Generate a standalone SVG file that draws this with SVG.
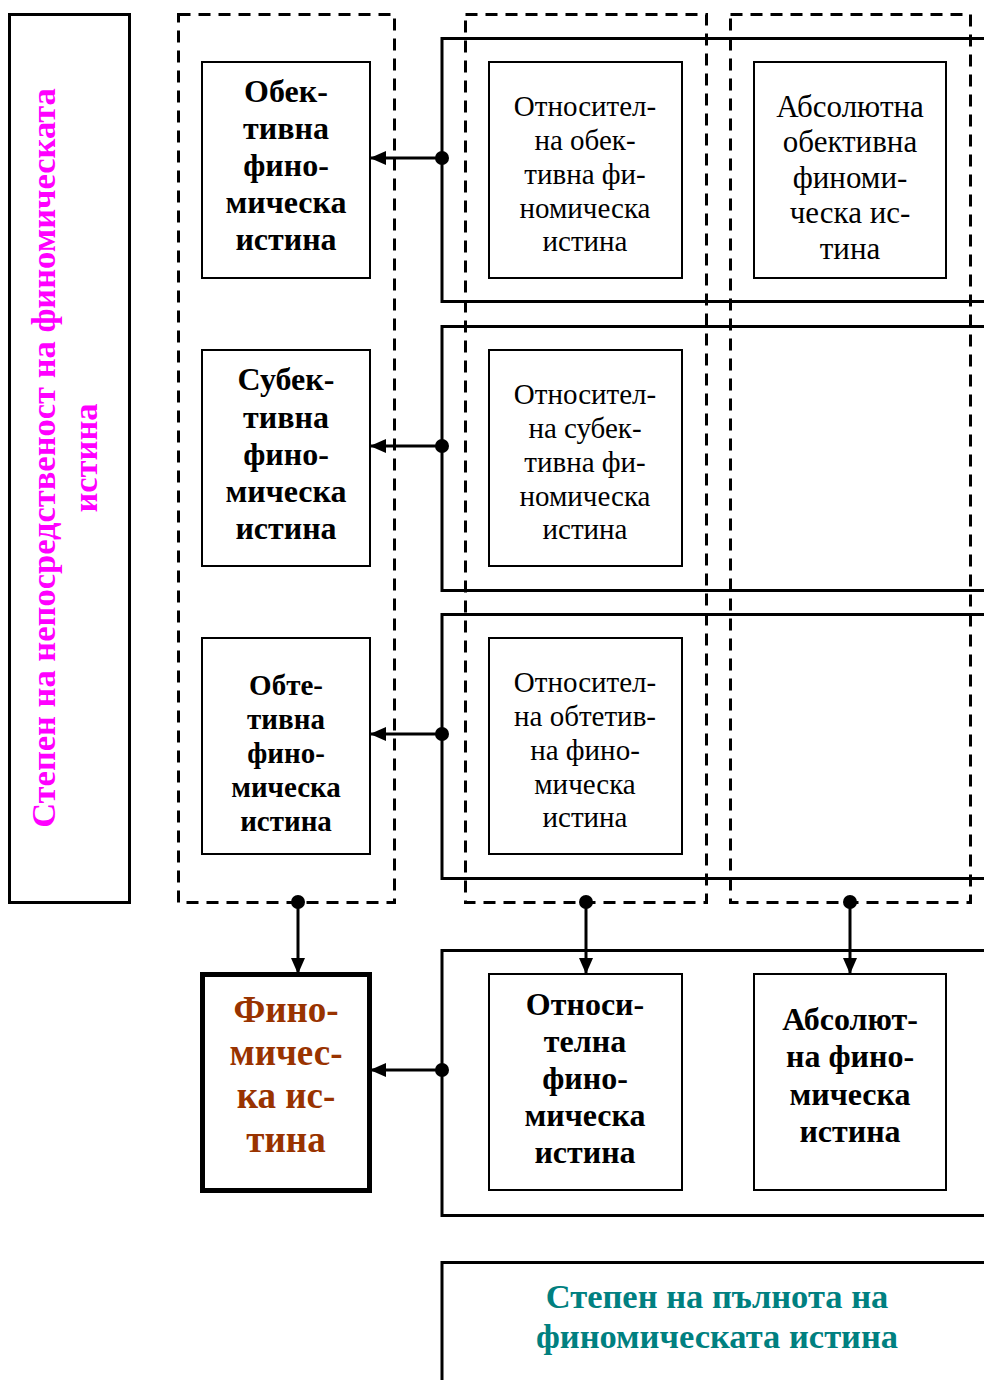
<svg xmlns="http://www.w3.org/2000/svg" width="984" height="1380" viewBox="0 0 984 1380">
<defs>
<marker id="ah" markerWidth="16" markerHeight="14" refX="15" refY="7" orient="auto" markerUnits="userSpaceOnUse">
<path d="M0,0 L16,7 L0,14 Z" fill="#000"/>
</marker>
<style>
.dash{fill:none;stroke:#000;stroke-width:3;stroke-dasharray:12 8}
.row{fill:none;stroke:#000;stroke-width:3}
.box{fill:#fff;stroke:#000;stroke-width:2}
.conn{stroke:#000;stroke-width:3;fill:none}
.dot{fill:#000}
text{font-family:"Liberation Serif","Times New Roman",serif;text-anchor:middle}
.b{font-weight:bold;font-size:32px}
.b3{font-weight:bold;font-size:29px}
.r{font-size:29px}
.r2{font-size:31px}
</style>
</defs>
<rect width="984" height="1380" fill="#fff"/>

<g id="side-label">
<rect x="9.5" y="14.5" width="120" height="888" fill="none" stroke="#000" stroke-width="3"/>
<text transform="translate(55,458) rotate(-90)" font-weight="bold" font-size="34.5" fill="#FF00FF">Степен на непосредственост на финомическата</text>
<text transform="translate(97,458) rotate(-90)" font-weight="bold" font-size="34.5" fill="#FF00FF">истина</text>
</g>

<g id="groups">
<rect class="dash" x="178.5" y="14.5" width="216" height="888"/>
<rect class="dash" x="465.5" y="14.5" width="241" height="888"/>
<rect class="dash" x="730.5" y="14.5" width="240" height="888"/>
<rect class="row" x="442" y="38.5" width="600" height="263"/>
<rect class="row" x="442" y="326.5" width="600" height="264"/>
<rect class="row" x="442" y="614.5" width="600" height="264"/>
<rect class="row" x="442" y="950.5" width="600" height="265"/>
</g>

<g id="obj">
<rect class="box" x="202" y="62" width="168" height="216"/>
<text class="b"><tspan x="286" y="102">Обек-</tspan><tspan x="286" y="139">тивна</tspan><tspan x="286" y="176">фино-</tspan><tspan x="286" y="213">мическа</tspan><tspan x="286" y="250">истина</tspan></text>
</g>
<g id="subj">
<rect class="box" x="202" y="350" width="168" height="216"/>
<text class="b"><tspan x="286" y="390">Субек-</tspan><tspan x="286" y="428">тивна</tspan><tspan x="286" y="465">фино-</tspan><tspan x="286" y="502">мическа</tspan><tspan x="286" y="539">истина</tspan></text>
</g>
<g id="obte">
<rect class="box" x="202" y="638" width="168" height="216"/>
<text class="b3"><tspan x="286" y="695">Обте-</tspan><tspan x="286" y="729">тивна</tspan><tspan x="286" y="763">фино-</tspan><tspan x="286" y="797">мическа</tspan><tspan x="286" y="831">истина</tspan></text>
</g>

<g id="rel-obj">
<rect class="box" x="489" y="62" width="193" height="216"/>
<text class="r"><tspan x="585" y="116">Относител-</tspan><tspan x="585" y="150">на обек-</tspan><tspan x="585" y="184">тивна фи-</tspan><tspan x="585" y="218">номическа</tspan><tspan x="585" y="251">истина</tspan></text>
</g>
<g id="rel-subj">
<rect class="box" x="489" y="350" width="193" height="216"/>
<text class="r"><tspan x="585" y="404">Относител-</tspan><tspan x="585" y="438">на субек-</tspan><tspan x="585" y="472">тивна фи-</tspan><tspan x="585" y="506">номическа</tspan><tspan x="585" y="539">истина</tspan></text>
</g>
<g id="rel-obte">
<rect class="box" x="489" y="638" width="193" height="216"/>
<text class="r"><tspan x="585" y="692">Относител-</tspan><tspan x="585" y="726">на обтетив-</tspan><tspan x="585" y="760">на фино-</tspan><tspan x="585" y="794">мическа</tspan><tspan x="585" y="827">истина</tspan></text>
</g>
<g id="abs-obj">
<rect class="box" x="754" y="62" width="192" height="216"/>
<text class="r2"><tspan x="850" y="117">Абсолютна</tspan><tspan x="850" y="152">обективна</tspan><tspan x="850" y="188">финоми-</tspan><tspan x="850" y="223">ческа ис-</tspan><tspan x="850" y="259">тина</tspan></text>
</g>

<g id="fin">
<rect x="202.5" y="974.5" width="167" height="216" fill="#fff" stroke="#000" stroke-width="5"/>
<text font-weight="bold" font-size="37" fill="#993300"><tspan x="286" y="1022">Фино-</tspan><tspan x="286" y="1065">мичес-</tspan><tspan x="286" y="1108">ка ис-</tspan><tspan x="286" y="1152">тина</tspan></text>
</g>
<g id="rel">
<rect class="box" x="489" y="974" width="193" height="216"/>
<text class="b"><tspan x="585" y="1015">Относи-</tspan><tspan x="585" y="1052">телна</tspan><tspan x="585" y="1089">фино-</tspan><tspan x="585" y="1126">мическа</tspan><tspan x="585" y="1163">истина</tspan></text>
</g>
<g id="abs">
<rect class="box" x="754" y="974" width="192" height="216"/>
<text class="b"><tspan x="850" y="1030">Абсолют-</tspan><tspan x="850" y="1067">на фино-</tspan><tspan x="850" y="1105">мическа</tspan><tspan x="850" y="1142">истина</tspan></text>
</g>

<g id="completeness">
<rect x="442" y="1262.5" width="600" height="200" fill="none" stroke="#000" stroke-width="3"/>
<text font-weight="bold" font-size="34.5" fill="#008080"><tspan x="717" y="1308">Степен на пълнота на</tspan><tspan x="717" y="1348">финомическата истина</tspan></text>
</g>

<g id="connectors">
<line class="conn" x1="442" y1="158" x2="371" y2="158" marker-end="url(#ah)"/>
<circle class="dot" cx="442" cy="158" r="7"/>
<line class="conn" x1="442" y1="446" x2="371" y2="446" marker-end="url(#ah)"/>
<circle class="dot" cx="442" cy="446" r="7"/>
<line class="conn" x1="442" y1="734" x2="371" y2="734" marker-end="url(#ah)"/>
<circle class="dot" cx="442" cy="734" r="7"/>
<line class="conn" x1="442" y1="1070" x2="371" y2="1070" marker-end="url(#ah)"/>
<circle class="dot" cx="442" cy="1070" r="7"/>
<line class="conn" x1="298" y1="902" x2="298" y2="973" marker-end="url(#ah)"/>
<circle class="dot" cx="298" cy="902" r="7"/>
<line class="conn" x1="586" y1="902" x2="586" y2="973" marker-end="url(#ah)"/>
<circle class="dot" cx="586" cy="902" r="7"/>
<line class="conn" x1="850" y1="902" x2="850" y2="973" marker-end="url(#ah)"/>
<circle class="dot" cx="850" cy="902" r="7"/>
</g>
</svg>
